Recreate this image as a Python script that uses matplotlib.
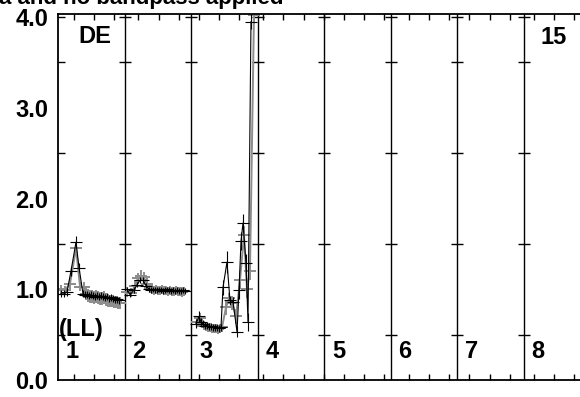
import numpy as np
import matplotlib
matplotlib.use("Agg")
import matplotlib.pyplot as plt
from matplotlib.ticker import FixedLocator, NullFormatter, FixedFormatter

plt.rcParams['font.family'] = ['Liberation Sans', 'DejaVu Sans']
plt.rcParams['font.weight'] = 'bold'

# ---------------- data (x in module-panel units, panel k spans [k-1, k]) -------------
black_x = [0.045, 0.090, 0.135, 0.195, 0.271, 0.316, 0.376, 0.406, 0.436, 0.466, 0.496,
           0.526, 0.556, 0.586, 0.617, 0.647, 0.677, 0.707, 0.737, 0.767, 0.797, 0.827,
           0.857, 0.887, 0.917,
           1.038, 1.083, 1.143, 1.188, 1.233, 1.278, 1.323, 1.368, 1.398, 1.429, 1.459,
           1.489, 1.519, 1.549, 1.579, 1.609, 1.639, 1.669, 1.699, 1.729, 1.759, 1.789,
           1.820, 1.850, 1.880, 1.910,
           2.075, 2.120, 2.150, 2.180, 2.211, 2.241, 2.271, 2.301, 2.331, 2.361, 2.391,
           2.421, 2.451, 2.481, 2.541, 2.586, 2.632, 2.692, 2.722, 2.752, 2.782, 2.827,
           2.857, 2.902]
black_y = [0.95, 0.95, 0.97, 1.20, 1.52, 1.24, 0.95, 0.94, 0.94, 0.93, 0.94,
           0.93, 0.92, 0.93, 0.92, 0.93, 0.92, 0.91, 0.92, 0.90, 0.91, 0.90,
           0.89, 0.89, 0.88,
           1.00, 0.94, 0.99, 1.05, 1.10, 1.10, 1.04, 1.00, 0.99, 1.00, 0.99,
           0.99, 1.00, 0.99, 0.98, 0.99, 1.00, 0.99, 0.98, 0.99, 0.98, 0.99,
           0.98, 0.98, 0.99, 0.98,
           0.62, 0.70, 0.64, 0.62, 0.60, 0.60, 0.59, 0.59, 0.58, 0.58, 0.58,
           0.57, 0.58, 1.02, 1.30, 0.88, 0.86, 0.53, 0.99, 1.53, 1.73, 1.29,
           0.64, 3.95]
black_yerr = [0.04, 0.04, 0.04, 0.05, 0.07, 0.05, 0.04, 0.04, 0.04, 0.04, 0.04,
              0.04, 0.04, 0.04, 0.04, 0.04, 0.04, 0.04, 0.04, 0.04, 0.04, 0.04,
              0.04, 0.04, 0.04,
              0.03, 0.03, 0.03, 0.03, 0.03, 0.03, 0.03, 0.03, 0.03, 0.03, 0.03,
              0.03, 0.03, 0.03, 0.03, 0.03, 0.03, 0.03, 0.03, 0.03, 0.03, 0.03,
              0.03, 0.03, 0.03, 0.03,
              0.05, 0.06, 0.04, 0.04, 0.04, 0.04, 0.04, 0.04, 0.04, 0.04, 0.04,
              0.04, 0.04, 0.08, 0.12, 0.05, 0.06, 0.06, 0.10, 0.10, 0.10, 0.10,
              0.10, 0.08]

gray_x = [0.045, 0.105, 0.180, 0.271, 0.331, 0.391, 0.421, 0.451, 0.481, 0.511,
          0.541, 0.571, 0.601, 0.632, 0.662, 0.692, 0.722, 0.752, 0.782, 0.812,
          0.842, 0.872, 0.902, 0.932,
          1.038, 1.098, 1.158, 1.203, 1.248, 1.293, 1.338, 1.383, 1.414, 1.444,
          1.474, 1.504, 1.534, 1.564, 1.594, 1.624, 1.654, 1.684, 1.714, 1.744,
          1.774, 1.805, 1.835, 1.865, 1.895,
          2.090, 2.135, 2.165, 2.195, 2.226, 2.256, 2.286, 2.316, 2.346, 2.376,
          2.406, 2.436, 2.466, 2.526, 2.571, 2.617, 2.677, 2.737, 2.797, 2.842,
          2.887, 2.947]
gray_y = [1.00, 0.99, 1.06, 1.45, 1.03, 1.02, 0.95, 0.93, 0.92, 0.92,
          0.91, 0.92, 0.91, 0.90, 0.90, 0.91, 0.89, 0.88, 0.87, 0.87,
          0.86, 0.86, 0.85, 0.85,
          0.97, 0.96, 1.04, 1.12, 1.15, 1.13, 1.06, 1.01, 1.00, 0.99,
          1.00, 0.99, 0.99, 1.00, 0.99, 0.99, 0.98, 0.99, 0.98, 0.98,
          0.99, 0.98, 0.98, 0.97, 0.98,
          0.64, 0.68, 0.62, 0.60, 0.59, 0.58, 0.58, 0.57, 0.57, 0.57,
          0.56, 0.57, 0.58, 0.80, 0.90, 0.85, 0.70, 1.10, 1.60, 1.00,
          1.20, 4.02]
gray_yerr = [0.05, 0.05, 0.06, 0.07, 0.05, 0.06, 0.07, 0.07, 0.07, 0.07,
             0.07, 0.07, 0.07, 0.07, 0.07, 0.07, 0.07, 0.07, 0.07, 0.07,
             0.07, 0.07, 0.07, 0.07,
             0.05, 0.05, 0.06, 0.06, 0.06, 0.06, 0.06, 0.05, 0.05, 0.05,
             0.05, 0.05, 0.05, 0.05, 0.05, 0.05, 0.05, 0.05, 0.05, 0.05,
             0.05, 0.05, 0.05, 0.05, 0.05,
             0.06, 0.06, 0.05, 0.05, 0.05, 0.05, 0.05, 0.05, 0.05, 0.05,
             0.05, 0.05, 0.05, 0.08, 0.06, 0.08, 0.08, 0.10, 0.10, 0.10,
             0.10, 0.10]

panel_labels = ['1', '2', '3', '4', '5', '6', '7', '8']
y_ticks = [0, 1, 2, 3, 4]
y_ticklabels = ['0.0', '1.0', '2.0', '3.0', '4.0']
y_minor = [0.5, 1.5, 2.5, 3.5, 4.0]
x_ticks = [0.24, 0.54, 0.84, 1.20, 1.52, 1.82, 2.12, 2.42, 2.72, 3.08, 3.38, 3.70,
           4.00, 4.30, 4.60, 4.90, 5.28, 5.58, 5.88, 6.18, 6.50, 6.80, 7.16, 7.46, 7.76]
separators = [1, 2, 3, 4, 5, 6, 7]

FS = 17

# ---------------- figure -------------
W, H = 580, 397
fig = plt.figure(figsize=(W / 100, H / 100), dpi=100)
left, right, bottom, top = 58, 590, 380, 13.5
ax = fig.add_axes([left / W, 1 - bottom / H, (right - left) / W, (bottom - top) / H])
ax.set_xlim(0, 8)
ax.set_ylim(0, 4.04)


def draw_series(xs, ys, es, color, lw, z):
    xs = np.asarray(xs); ys = np.asarray(ys); es = np.asarray(es)
    pan = np.floor(xs)
    for p in np.unique(pan):
        m = pan == p
        ax.errorbar(xs[m], ys[m], yerr=es[m], xerr=0.09, fmt='-', color=color,
                    lw=lw, elinewidth=lw, capsize=0, zorder=z)


draw_series(gray_x, gray_y, gray_yerr, '#8c8c8c', 1.4, 2)
draw_series(black_x, black_y, black_yerr, 'black', 0.8, 3)

for s in separators:
    ax.axvline(s, color='black', lw=1.0, zorder=1)
    ax.plot([s] * len(y_minor), y_minor, linestyle='none', marker='_',
            markersize=9, markeredgewidth=1.0, color='black', zorder=1)

for sp in ['left', 'bottom', 'top']:
    ax.spines[sp].set_linewidth(1.3)
ax.spines['right'].set_visible(False)

ax.yaxis.remove_overlapping_locs = False
ax.yaxis.set_major_locator(FixedLocator(y_ticks))
ax.yaxis.set_major_formatter(FixedFormatter(y_ticklabels))
ax.yaxis.set_minor_locator(FixedLocator(y_minor))
ax.tick_params(axis='y', which='major', length=0, pad=7, labelsize=FS)
ax.tick_params(axis='y', which='minor', direction='in', length=5, width=1.0)
for lab in ax.get_yticklabels():
    lab.set_fontweight('bold')

ax.xaxis.set_major_locator(FixedLocator(x_ticks))
ax.xaxis.set_major_formatter(NullFormatter())
ax.tick_params(axis='x', which='major', direction='in', length=4.5, width=1.0,
               top=True, bottom=True)

for i, lab in enumerate(panel_labels):
    ax.text(i + 0.12, 0.31, lab, fontsize=FS, fontweight='bold',
            ha='left', va='center', zorder=4)
ax.text(0.02, 0.56, '(LL)', fontsize=FS, fontweight='bold', ha='left', va='center')
ax.text(0.30, 3.79, 'DE', fontsize=FS, fontweight='bold', ha='left', va='center')
ax.text(7.25, 3.77, '15', fontsize=FS, fontweight='bold', ha='left', va='center')

fig.text(-0.002, 1 - 4 / H, 'a and no bandpass applied', fontsize=16,
         fontweight='bold', ha='left', va='baseline')

fig.savefig('out.png', dpi=100)
